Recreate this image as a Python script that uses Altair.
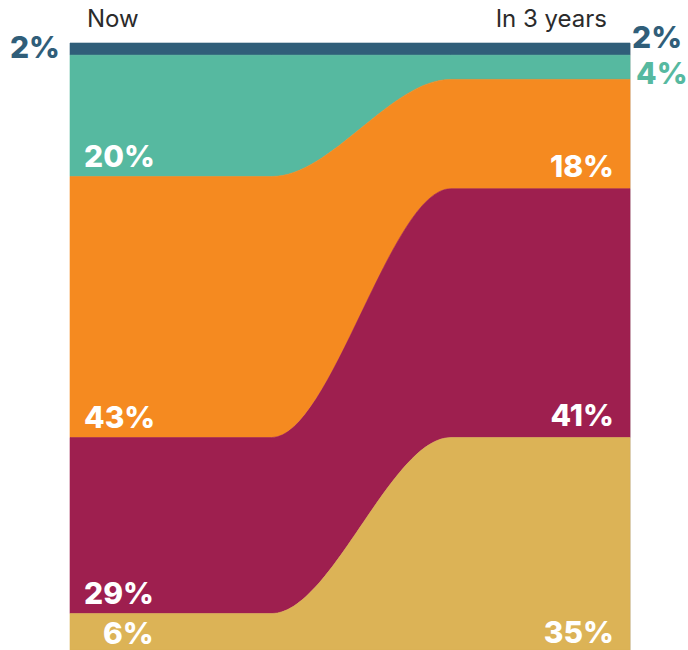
import altair as alt
import numpy as np
import pandas as pd

# Segments listed from top of the stack to bottom
segments = ["S1", "S2", "S3", "S4", "S5"]
colors = ["#305E79", "#56B9A0", "#F58A20", "#9E1F4F", "#DCB356"]
now_values = [2, 20, 43, 29, 6]
future_values = [2, 4, 18, 41, 35]
now_label_color = ["#305E79", "white", "white", "white", "white"]
future_label_color = ["#305E79", "#56B9A0", "white", "white", "white"]
column_titles = ["Now", "In 3 years"]

# x positions: flat "Now" stretch, transition, flat "In 3 years" stretch
positions = [0.0, 0.36, 0.68, 1.0]

rows = []
for i, seg in enumerate(segments):
    vals = [now_values[i], now_values[i], future_values[i], future_values[i]]
    for p, v in zip(positions, vals):
        rows.append({"segment": seg, "pos": p, "value": v, "rank": len(segments) - i})
area_df = pd.DataFrame(rows)

# label anchors: bottom of each band (cumulative from bottom)
rev_now = now_values[::-1]
rev_fut = future_values[::-1]
base_now = list(np.cumsum([0] + rev_now[:-1]))[::-1]
base_fut = list(np.cumsum([0] + rev_fut[:-1]))[::-1]

lab_rows = []
for i, seg in enumerate(segments):
    # left labels
    if i == 0:
        lab_rows.append({"pos": 0, "y": base_now[i], "text": f"{now_values[i]}%",
                         "color": now_label_color[i], "dx": -10, "dy": 3, "align": "right"})
    elif i == 4:
        lab_rows.append({"pos": 0, "y": 0, "text": f"{now_values[i]}%",
                         "color": now_label_color[i], "dx": 33, "dy": -6, "align": "left"})
    else:
        lab_rows.append({"pos": 0, "y": base_now[i], "text": f"{now_values[i]}%",
                         "color": now_label_color[i], "dx": 14, "dy": -10, "align": "left"})
    # right labels
    if i == 0:
        lab_rows.append({"pos": 1, "y": 100, "text": f"{future_values[i]}%",
                         "color": future_label_color[i], "dx": 2, "dy": 5, "align": "left"})
    elif i == 1:
        lab_rows.append({"pos": 1, "y": base_fut[i], "text": f"{future_values[i]}%",
                         "color": future_label_color[i], "dx": 6, "dy": 5, "align": "left"})
    elif i == 4:
        lab_rows.append({"pos": 1, "y": 0, "text": f"{future_values[i]}%",
                         "color": future_label_color[i], "dx": -16, "dy": -7, "align": "right"})
    else:
        lab_rows.append({"pos": 1, "y": base_fut[i], "text": f"{future_values[i]}%",
                         "color": future_label_color[i], "dx": -16, "dy": -12, "align": "right"})
lab_df = pd.DataFrame(lab_rows)

x_scale = alt.Scale(domain=[0, 1], nice=False, zero=False)
y_scale = alt.Scale(domain=[0, 100], nice=False)

areas = alt.Chart(area_df).mark_area(interpolate="monotone", strokeWidth=0.6).encode(
    x=alt.X("pos:Q", scale=x_scale, axis=None),
    y=alt.Y("value:Q", stack="zero", scale=y_scale, axis=None),
    color=alt.Color("segment:N", scale=alt.Scale(domain=segments, range=colors), legend=None),
    stroke=alt.Stroke("segment:N", scale=alt.Scale(domain=segments, range=colors), legend=None),
    order=alt.Order("rank:Q", sort="ascending"),
)

def label_layer(df):
    layers = []
    for (align, dx, dy), sub in df.groupby(["align", "dx", "dy"]):
        layers.append(
            alt.Chart(sub).mark_text(
                font="Inter", fontWeight=800, fontSize=30, align=align,
                baseline="alphabetic", dx=int(dx), dy=int(dy)
            ).encode(
                x=alt.X("pos:Q", scale=x_scale),
                y=alt.Y("y:Q", scale=y_scale),
                text="text:N",
                color=alt.Color("color:N", scale=None),
            )
        )
    return layers

title_df = pd.DataFrame({"pos": [0, 1], "y": [100, 100], "text": column_titles})
title_left = alt.Chart(title_df[title_df.pos == 0]).mark_text(
    font="Inter", fontSize=24, fontWeight=400, color="#2b2b2b", align="left",
    baseline="alphabetic", dx=17, dy=-16
).encode(x=alt.X("pos:Q", scale=x_scale), y=alt.Y("y:Q", scale=y_scale), text="text:N")
title_right = alt.Chart(title_df[title_df.pos == 1]).mark_text(
    font="Inter", fontSize=24, fontWeight=400, color="#2b2b2b", align="right",
    baseline="alphabetic", dx=-23, dy=-16
).encode(x=alt.X("pos:Q", scale=x_scale), y=alt.Y("y:Q", scale=y_scale), text="text:N")

chart = alt.layer(areas, *label_layer(lab_df), title_left, title_right).properties(
    width=560, height=607,
    autosize=alt.AutoSizeParams(type="none"),
    padding={"left": 70, "top": 43, "right": 58, "bottom": 0},
).configure_view(stroke=None).configure(background="white")

chart.save("out.html", embed_options={"renderer": "svg", "actions": False})
